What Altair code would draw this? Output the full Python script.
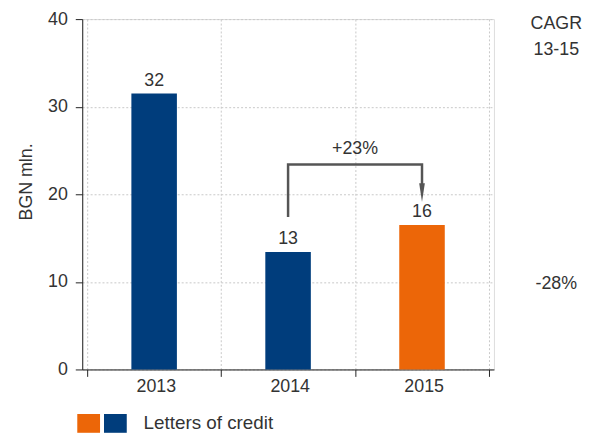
import altair as alt
import pandas as pd

years = ["2013", "2014", "2015"]
values = [31.5, 13.4, 16.5]
value_labels = ["32", "13", "16"]
bar_colors = ["#003d7c", "#003d7c", "#ec6608"]
positions = [0.5, 1.5, 2.5]

y_ticks = [0, 10, 20, 30, 40]
x_ticks = [0, 1, 2, 3]

growth_label = "+23%"
arrow_from, arrow_to = 1.5, 2.5
arrow_x = [1.5, 1.5, 2.5, 2.5]
arrow_y = [17.4, 23.4, 23.4, 21.0]
arrow_tip = 20.2
growth_label_y = 25.2

cagr_title = ["CAGR", "13-15"]
cagr_value = "-28%"
legend_colors = ["#ec6608", "#003d7c"]
legend_label = "Letters of credit"

FONT = "Liberation Sans"
TXT = "#333333"
FS = 18

df = pd.DataFrame({"pos": positions, "value": values, "label": value_labels,
                   "color": bar_colors, "year": years})

label_js = "[" + ",".join(f"'{y}'" for y in years) + "][datum.value] || ''"

x_enc = alt.X("pos:Q", scale=alt.Scale(domain=[0, 3], nice=False, zero=False),
              axis=alt.Axis(values=x_ticks, grid=True, gridDash=[2, 2], gridColor="#c8c8c8",
                            domainColor="#222222", tickColor="#222222", tickSize=7,
                            labelExpr=label_js, labelOffset=416 / 6, labelFlush=False,
                            labelFontSize=FS, labelColor=TXT, labelFont=FONT, labelPadding=1,
                            labelOverlap=False, labelBound=False, title=None))
y_enc = alt.Y("value:Q", scale=alt.Scale(domain=[0, 40], nice=False),
              axis=alt.Axis(values=y_ticks, grid=True, gridDash=[2, 2], gridColor="#c8c8c8",
                            domainColor="#222222", tickColor="#222222", tickSize=7,
                            labelFontSize=FS, labelColor=TXT, labelFont=FONT, labelPadding=8,
                            title="BGN mln.", titleFontSize=FS, titleFontWeight="normal",
                            titleColor=TXT, titleFont=FONT, titleAngle=270,
                            titleBaseline="alphabetic", titleAlign="center",
                            titleX=-51, titleY=164))

bars = alt.Chart(df).mark_bar(size=46).encode(
    x=x_enc, y=y_enc, color=alt.Color("color:N", scale=None))

bar_text = alt.Chart(df).mark_text(font=FONT, fontSize=FS, color=TXT, baseline="alphabetic", dy=-8).encode(
    x="pos:Q", y="value:Q", text="label:N")

arrow_df = pd.DataFrame({"x": arrow_x, "y": arrow_y, "o": list(range(len(arrow_x)))})
arrow_line = alt.Chart(arrow_df).mark_line(color="#555555", strokeWidth=2.5, strokeCap="butt",
                                           strokeJoin="miter").encode(
    x="x:Q", y="y:Q", order="o:Q")
tip_df = pd.DataFrame({"x": [arrow_to], "y": [arrow_tip]})
arrow_head = alt.Chart(tip_df).mark_point(shape="M-0.3,-1L0.3,-1L0,1Z", size=361, filled=True,
                                          color="#555555", opacity=1, strokeWidth=0).encode(
    x="x:Q", y="y:Q")
growth_df = pd.DataFrame({"x": [(arrow_from + arrow_to) / 2], "y": [growth_label_y], "t": [growth_label]})
growth_text = alt.Chart(growth_df).mark_text(font=FONT, fontSize=FS, color=TXT, baseline="middle").encode(
    x="x:Q", y="y:Q", text="t:N")

cagr_df = pd.DataFrame({"t": cagr_title + [cagr_value], "py": [5, 31, 268]})
cagr_text = alt.Chart(cagr_df).mark_text(font=FONT, fontSize=FS, color=TXT, baseline="middle", align="center").encode(
    x=alt.value(479), y=alt.Y("py:Q", scale=None), text="t:N")

leg_df = pd.DataFrame({"c": legend_colors, "x0": [-5, 22], "x1": [18, 45]})
leg_rects = alt.Chart(leg_df).mark_rect().encode(
    x=alt.X("x0:Q", scale=None), x2="x1:Q", y=alt.value(399), y2=alt.value(418),
    color=alt.Color("c:N", scale=None))
leg_text = alt.Chart(pd.DataFrame({"t": [legend_label]})).mark_text(
    font=FONT, fontSize=19, color=TXT, align="left", baseline="middle").encode(
    x=alt.value(62), y=alt.value(408), text="t:N")

chart = alt.layer(bars, bar_text, arrow_line, arrow_head, growth_text, cagr_text, leg_rects, leg_text).properties(
    width=416, height=354,
    autosize=alt.AutoSizeParams(type="none"),
    padding={"left": 75, "top": 9, "right": 90, "bottom": 63},
).configure_view(stroke=None).configure(font=FONT)

chart.save("out.html", embed_options={"renderer": "svg", "actions": False})
